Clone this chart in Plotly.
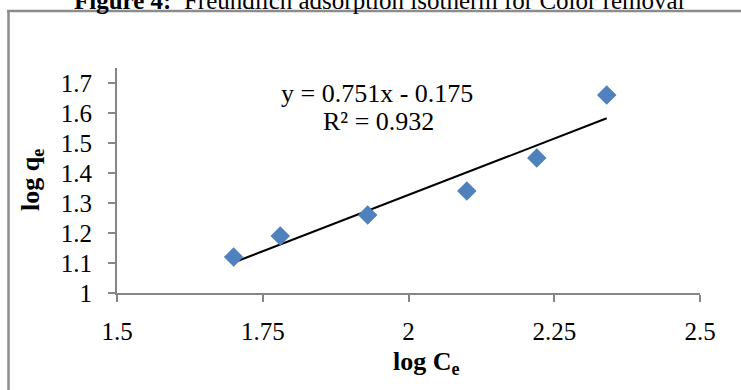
import plotly.graph_objects as go

log_ce = [1.70, 1.78, 1.93, 2.10, 2.22, 2.34]
log_qe = [1.12, 1.19, 1.26, 1.34, 1.45, 1.66]
slope = 0.751
intercept = -0.175
r2 = 0.932
x_ticks = [1.5, 1.75, 2, 2.25, 2.5]
x_ticklabels = ["1.5", "1.75", "2", "2.25", "2.5"]
y_ticks = [1, 1.1, 1.2, 1.3, 1.4, 1.5, 1.6, 1.7]
y_ticklabels = ["1", "1.1", "1.2", "1.3", "1.4", "1.5", "1.6", "1.7"]

FONT = "Liberation Serif"
W, H = 741, 390
L, R, T, B = 117, 41, 68, 97
pw, ph = W - L - R, H - T - B

def px_x(p):
    return (p - L) / pw

def px_y(p):
    return (H - B - p) / ph

x_line = [min(log_ce), max(log_ce)]
y_line = [slope * v + intercept for v in x_line]

fig = go.Figure()
fig.add_trace(go.Scatter(x=x_line, y=y_line, mode="lines",
                         line=dict(color="black", width=2), showlegend=False,
                         hoverinfo="skip"))
fig.add_trace(go.Scatter(x=log_ce, y=log_qe, mode="markers",
                         marker=dict(symbol="diamond", size=15, color="#4F81BD",
                                     line=dict(width=0)),
                         showlegend=False))

axis_col = "#868686"
fig.update_xaxes(range=[1.5, 2.5], tickvals=x_ticks, ticktext=x_ticklabels,
                 showgrid=False, zeroline=False, showline=True, linecolor=axis_col,
                 linewidth=2, ticks="outside", ticklen=7, tickwidth=2, tickcolor=axis_col,
                 tickfont=dict(family=FONT, size=25, color="black"),
                 ticklabelstandoff=8)
fig.update_yaxes(range=[1, 1.75], tickvals=y_ticks, ticktext=y_ticklabels,
                 showgrid=False, zeroline=False, showline=True, linecolor=axis_col,
                 linewidth=2, ticks="outside", ticklen=7, tickwidth=2, tickcolor=axis_col,
                 tickfont=dict(family=FONT, size=25, color="black"),
                 ticklabelstandoff=11)

annotations = [
    dict(text="<b>Figure 4:</b>  Freundlich adsorption isotherm for Color removal",
         xref="paper", yref="paper", x=px_x(379), y=px_y(0), xanchor="center",
         yanchor="middle", showarrow=False, font=dict(family=FONT, size=25, color="black")),
    dict(text=f"y = {slope}x - {abs(intercept)}", xref="paper", yref="paper",
         x=px_x(377), y=px_y(93), xanchor="center", yanchor="middle", showarrow=False,
         font=dict(family=FONT, size=26, color="black")),
    dict(text=f"R² = {r2}", xref="paper", yref="paper",
         x=px_x(378), y=px_y(121), xanchor="center", yanchor="middle", showarrow=False,
         font=dict(family=FONT, size=26, color="black")),
    dict(text="<b>log C<sub>e</sub></b>", xref="paper", yref="paper",
         x=px_x(426), y=px_y(363), xanchor="center", yanchor="middle", showarrow=False,
         font=dict(family=FONT, size=26, color="black")),
    dict(text="<b>log q<sub>e</sub></b>", xref="paper", yref="paper",
         x=px_x(32), y=px_y(180), xanchor="center", yanchor="middle", showarrow=False,
         textangle=-90, font=dict(family=FONT, size=26, color="black")),
]

shapes = [
    dict(type="line", xref="paper", yref="paper", x0=px_x(8.5), x1=px_x(8.5),
         y0=px_y(11), y1=px_y(400), line=dict(color="#8c8c8c", width=2.5)),
    dict(type="line", xref="paper", yref="paper", x0=px_x(7), x1=px_x(760),
         y0=px_y(11), y1=px_y(11), line=dict(color="#8c8c8c", width=2.5)),
]

fig.update_layout(width=W, height=H, margin=dict(l=L, r=R, t=T, b=B),
                  plot_bgcolor="white", paper_bgcolor="white",
                  annotations=annotations, shapes=shapes,
                  font=dict(family=FONT))

fig.write_html("out.html", config={"displayModeBar": False},
               post_script="document.body.style.margin='0';")
